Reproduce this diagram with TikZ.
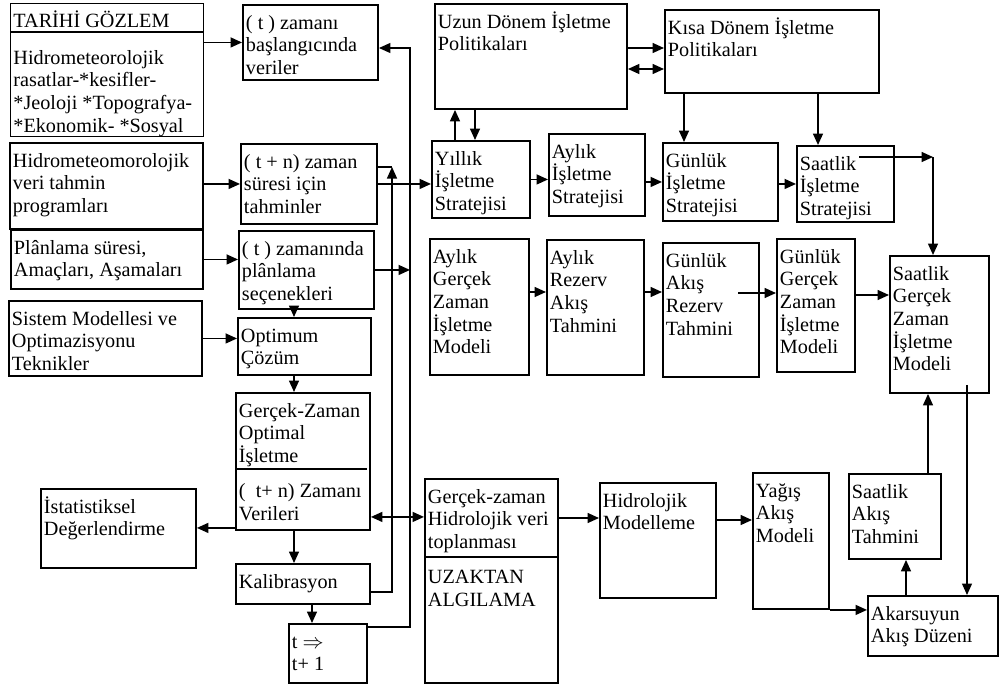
\documentclass[tikz,border=0pt]{standalone}
\usepackage{fontspec}
\setmainfont{Liberation Serif}
\usetikzlibrary{arrows.meta}
% box text: width and height in px of the reference
\newcommand{\bx}[3]{\parbox[c][\dimexpr0.2mm*#2-2.6mm\relax][t]{\dimexpr0.2mm*#1-1.2mm\relax}{\raggedright\leavevmode\rule{0pt}{10pt}#3}}

\begin{document}
\begin{tikzpicture}[x=0.2mm,y=-0.2mm]
    \tikzstyle{every node}=[font=\fontsize{11.5}{12.9}\selectfont];
    \tikzstyle{kutu}=[draw,line width=1.1pt,anchor=north west,inner xsep=0.6mm,inner ysep=1.3mm];
    \tikzstyle{arr}=[-{Triangle[length=2.3mm,width=2mm]},line width=0.9pt];
    \tikzstyle{darr}=[{Triangle[length=2.3mm,width=2mm]}-{Triangle[length=2.3mm,width=2mm]},line width=0.9pt];
    \tikzstyle{ince}=[line width=0.7pt];

    \useasboundingbox (0,0) rectangle (999,688);

    % left column
    \node[kutu,line width=0.5pt] (tarih) at (10,3) {\bx{193}{133}{TARİHİ GÖZLEM\\[8pt]Hidrometeorolojik\\rasatlar-*kesifler-\\{}*Jeoloji *Topografya-\\{}*Ekonomik- *Sosyal}};
    \node[kutu] (baslangic) at (242,4) {\bx{135}{75}{( t ) zamanı\\başlangıcında\\veriler}};
    \node[kutu] (hidro) at (9,142) {\bx{193}{86}{Hidrometeomorolojik\\veri tahmin\\programları}};
    \node[kutu] (tahmin) at (240,143) {\bx{136}{80}{( t + n) zaman\\süresi için\\tahminler}};
    \node[kutu] (plan) at (10,229) {\bx{192}{59}{Plânlama süresi,\\Amaçları, Aşamaları}};
    \node[kutu] (secenek) at (238,230) {\bx{135}{78}{( t ) zamanında\\plânlama\\seçenekleri}};
    \node[kutu] (sistem) at (8,300) {\bx{193}{75}{Sistem Modellesi ve\\Optimazisyonu\\Teknikler}};
    \node[kutu] (optimum) at (237,317) {\bx{133}{57}{Optimum\\Çözüm}};
    \node[kutu] (gercek) at (235,392) {\bx{134}{137}{Gerçek-Zaman\\Optimal\\İşletme\\[7pt](~~t+ n) Zamanı\\Verileri}};
    \node[kutu] (istat) at (40,488) {\bx{155}{79}{İstatistiksel\\Değerlendirme}};
    \node[kutu] (kalib) at (235,563) {\bx{134}{40}{Kalibrasyon}};
    \node[kutu] (tbir) at (288,623) {\bx{78}{59}{t $\Rightarrow$\\t+ 1}};

    % right part
    \node[kutu] (uzun) at (434,3) {\bx{192}{105}{Uzun Dönem İşletme\\Politikaları}};
    \node[kutu] (kisa) at (664,9) {\bx{214}{83}{Kısa Dönem İşletme\\Politikaları}};
    \node[kutu] (yillik) at (431,140) {\bx{98}{77}{Yıllık\\İşletme\\Stratejisi}};
    \node[kutu] (aylikS) at (548,133) {\bx{96}{82}{Aylık\\İşletme\\Stratejisi}};
    \node[kutu] (gunlukS) at (662,142) {\bx{115}{78}{Günlük\\İşletme\\Stratejisi}};
    \node[kutu] (saatlikS) at (796,145) {\bx{97}{76}{Saatlik\\İşletme\\Stratejisi}};
    \node[kutu] (aylikG) at (429,238) {\bx{99}{136}{Aylık\\Gerçek\\Zaman\\İşletme\\Modeli}};
    \node[kutu] (aylikR) at (546,239) {\bx{97}{135}{Aylık\\Rezerv\\Akış\\Tahmini}};
    \node[kutu] (gunlukA) at (662,242) {\bx{96}{134}{Günlük\\Akış\\Rezerv\\Tahmini}};
    \node[kutu] (gunlukG) at (776,238) {\bx{78}{133}{Günlük\\Gerçek\\Zaman\\İşletme\\Modeli}};
    \node[kutu] (saatlikG) at (889,255) {\bx{99}{137}{Saatlik\\Gerçek\\Zaman\\İşletme\\Modeli}};
    \node[kutu] (toplama) at (424,478) {\bx{133}{204}{Gerçek-zaman\\Hidrolojik veri\\toplanması\\[7pt]UZAKTAN\\ALGILAMA}};
    \node[kutu] (hmodel) at (599,482) {\bx{116}{115}{Hidrolojik\\Modelleme}};
    \node[kutu] (yagis) at (752,472) {\bx{76}{136}{Yağış\\Akış\\Modeli}};
    \node[kutu] (saatlikA) at (848,473) {\bx{92}{85}{Saatlik\\Akış\\Tahmini}};
    \node[kutu] (akarsu) at (867,595) {\bx{130}{60}{Akarsuyun\\Akış Düzeni}};

    % dividers
    \draw[ince] ([shift={(0,29)}]tarih.north west) -- ([shift={(0,29)}]tarih.north east);
    \draw[ince] ([shift={(0,77)}]gercek.north west) -- ([shift={(-4,77)}]gercek.north east);
    \draw[ince] ([shift={(0,79)}]toplama.north west) -- ([shift={(-2,79)}]toplama.north east);

    % helper points
    \coordinate (kx) at (392,167);
    \coordinate (tx) at (410,48);
    \coordinate (ox) at (294,0);
    \coordinate (px) at (312,0);
    \coordinate (g1) at ([shift={(0,-3)}]gercek.south west);
    \coordinate (g2) at ([shift={(0,-14)}]gercek.south east);
    \coordinate (k1) at ([shift={(0,-13)}]kalib.south east);
    \coordinate (t1) at ([shift={(0,4)}]tbir.north east);

    \draw[arr] (tarih.east |- baslangic.west) -- (baslangic.west);
    \draw[arr] (hidro.east |- tahmin.west) -- (tahmin.west);
    \draw[arr] (plan.east) -- (plan.east -| secenek.west);
    \draw[arr] (sistem.east) -- (sistem.east -| optimum.west);
    \draw[arr] (secenek.south -| ox) -- (optimum.north -| ox);
    \draw[arr] (optimum.south -| ox) -- (gercek.north -| ox);
    \draw[arr] (gercek.south -| ox) -- (kalib.north -| ox);
    \draw[arr] (kalib.south -| px) -- (tbir.north -| px);
    \draw[arr] (g1) -- (g1 -| istat.east);
    \draw[arr,ince] (k1) -| (kx);
    \draw[ince] (kx) -- (kx -| tahmin.east);
    \draw[arr,ince] (t1) -| (tx) -- (tx -| baslangic.east);
    \draw[arr] (secenek.east) -- (secenek.east -| tx);
    \draw[arr] (tahmin.east) -- (tahmin.east -| yillik.west);
    \draw[darr] (g2) -- (g2 -| toplama.west);

    % politikalar ve stratejiler
    \coordinate (u1) at ([shift={(0,45)}]uzun.north east);
    \coordinate (u2) at ([shift={(0,66)}]uzun.north east);
    \coordinate (y1) at ([shift={(24,0)}]yillik.north west);
    \coordinate (y2) at ([shift={(44,0)}]yillik.north west);
    \coordinate (k3) at ([shift={(20,0)}]kisa.south west);
    \coordinate (k4) at ([shift={(154,0)}]kisa.south west);
    \coordinate (s1) at ([shift={(63,12)}]saatlikS.north west);
    \coordinate (s2) at ([shift={(74,0)}]s1);

    \draw[arr] (u1) -- (u1 -| kisa.west);
    \draw[darr] (u2) -- (u2 -| kisa.west);
    \draw[arr] (y1) -- (y1 |- uzun.south);
    \draw[arr] (y2 |- uzun.south) -- (y2);
    \draw[arr] (yillik.east) -- (yillik.east -| aylikS.west);
    \draw[arr] (aylikS.east |- gunlukS.west) -- (gunlukS.west);
    \draw[arr] (gunlukS.east |- saatlikS.west) -- (saatlikS.west);
    \draw[arr] (k3) -- (k3 |- gunlukS.north);
    \draw[arr] (k4) -- (k4 |- saatlikS.north);
    \draw[arr] (s1) -- (s2);
    \draw[arr] (s2) -- (s2 |- saatlikG.north);

    % gercek zaman modelleri
    \coordinate (a1) at ([shift={(0,54)}]aylikG.north east);
    \coordinate (a2) at ([shift={(0,53)}]aylikR.north east);
    \coordinate (a3) at ([shift={(76,51)}]gunlukA.north west);
    \coordinate (a4) at ([shift={(0,57)}]gunlukG.north east);
    \draw[arr] (a1) -- (a1 -| aylikR.west);
    \draw[arr] (a2) -- (a2 -| gunlukA.west);
    \draw[arr] (a3) -- (a3 -| gunlukG.west);
    \draw[arr] (a4) -- (a4 -| saatlikG.west);

    % hidroloji
    \coordinate (b1) at ([shift={(0,40)}]toplama.north east);
    \coordinate (b2) at ([shift={(0,38)}]hmodel.north east);
    \coordinate (c1) at ([shift={(39,0)}]akarsu.north west);
    \coordinate (c2) at ([shift={(80,0)}]saatlikA.north west);
    \coordinate (c3) at ([shift={(78,-9)}]saatlikG.south west);
    \draw[arr] (b1) -- (b1 -| hmodel.west);
    \draw[arr] (b2) -- (b2 -| yagis.west);
    \draw[arr] (yagis.south east) -- (yagis.south east -| akarsu.west);
    \draw[arr] (c1) -- (c1 |- saatlikA.south);
    \draw[arr,ince] (c2) -- (c2 |- saatlikG.south);
    \draw[arr,ince] (c3) -- (c3 |- akarsu.north);
\end{tikzpicture}
\end{document}
